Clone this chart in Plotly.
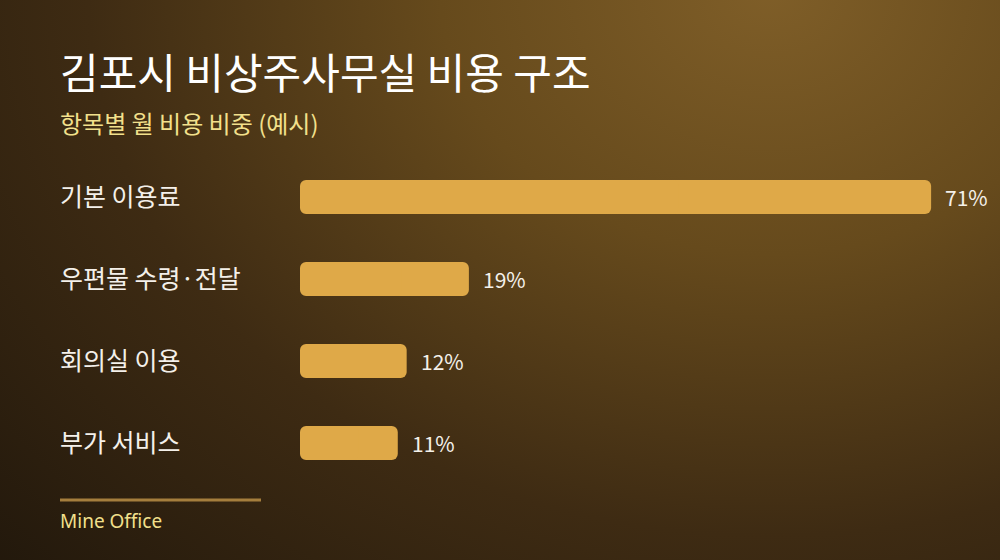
"""
김포시 비상주사무실 비용 구조 - horizontal bar chart on a warm radial backdrop
"""

import base64
import plotly.graph_objects as go

# Data
CATEGORIES = ['기본 이용료', '우편물 수령·전달', '회의실 이용', '부가 서비스']
SHARES = [71, 19, 12, 11]
VALUE_LABELS = ['71%', '19%', '12%', '11%']

TITLE = '김포시 비상주사무실 비용 구조'
SUBTITLE = '항목별 월 비용 비중 (예시)'
SOURCE = 'Mine Office'

FONT = 'Noto Sans CJK KR'
BAR_COLOR = '#dfa948'
ACCENT = '#f2e08c'

W, H = 1000, 560


def background_uri() -> str:
    # radial glow from the upper right fading to near-black in the lower left
    svg = (
        f'<svg xmlns="http://www.w3.org/2000/svg" width="{W}" height="{H}">'
        '<defs><radialGradient id="g" gradientUnits="userSpaceOnUse" '
        'cx="770" cy="-10" r="1100" '
        'gradientTransform="translate(770 -10) scale(1 0.8) translate(-770 10)">'
        '<stop offset="0" stop-color="#7f5e28"/>'
        '<stop offset="0.3" stop-color="#664a1c"/>'
        '<stop offset="0.62" stop-color="#3e2b13"/>'
        '<stop offset="1" stop-color="#1f160b"/>'
        '</radialGradient></defs>'
        f'<rect width="{W}" height="{H}" fill="url(#g)"/></svg>'
    )
    return 'data:image/svg+xml;base64,' + base64.b64encode(svg.encode()).decode()


fig = go.Figure()

# plotly only rounds the tip of a bar, so each bar is drawn as two
# overlapping halves growing outward from the middle: both ends get rounded
bar_style = dict(orientation='h', hoverinfo='skip',
                 marker=dict(color=BAR_COLOR, cornerradius=6, line=dict(width=0)))
fig.add_trace(go.Bar(
    y=CATEGORIES,
    base=[v * 0.4 for v in SHARES],
    x=[v * 0.6 for v in SHARES],
    **bar_style,
))
fig.add_trace(go.Bar(
    y=CATEGORIES,
    base=[v * 0.6 for v in SHARES],
    x=[-v * 0.6 for v in SHARES],
    **bar_style,
))

# category names at left, value labels after each bar
annotations = []
for cat, val, lab in zip(CATEGORIES, SHARES, VALUE_LABELS):
    annotations.append(dict(
        x=0.06, xref='paper', y=cat, yref='y',
        text=cat, showarrow=False, xanchor='left', yanchor='middle',
        xshift=-2, yshift=2,
        font=dict(family=FONT, size=25, color='#f4f0ea'),
    ))
    annotations.append(dict(
        x=val, xref='x', y=cat, yref='y',
        text=lab, showarrow=False, xanchor='left', yanchor='middle',
        xshift=12, font=dict(family=FONT, size=21, color='#f4f0ea'),
    ))

annotations += [
    dict(x=0.06, y=1 - 70 / H, xref='paper', yref='paper', text=TITLE,
         showarrow=False, xanchor='left', yanchor='middle', xshift=-2,
         font=dict(family=FONT, size=42, color='white')),
    dict(x=0.06, y=1 - 122 / H, xref='paper', yref='paper', text=SUBTITLE,
         showarrow=False, xanchor='left', yanchor='middle', xshift=-2,
         font=dict(family=FONT, size=24, color=ACCENT)),
    dict(x=0.06, y=1 - 521 / H, xref='paper', yref='paper', text=SOURCE,
         showarrow=False, xanchor='left', yanchor='middle', xshift=-2,
         font=dict(family='Noto Sans', size=19, color=ACCENT)),
]

fig.update_layout(
    width=W,
    height=H,
    margin=dict(l=0, r=0, t=0, b=0),
    paper_bgcolor='#2a1d0f',
    plot_bgcolor='rgba(0,0,0,0)',
    showlegend=False,
    barmode='overlay',
    bargap=0.585,
    xaxis=dict(domain=[0.3, 0.94], range=[0, 72], visible=False, fixedrange=True),
    yaxis=dict(domain=[1 - 484 / H, 1 - 156 / H], autorange='reversed',
               visible=False, fixedrange=True),
    annotations=annotations,
    shapes=[dict(type='line', xref='paper', yref='paper',
                 x0=0.06, x1=0.261, y0=1 - 500 / H, y1=1 - 500 / H,
                 line=dict(color='#a57e3d', width=3))],
    images=[dict(source=background_uri(), xref='paper', yref='paper',
                 x=0, y=1, sizex=1, sizey=1, sizing='stretch',
                 xanchor='left', yanchor='top', layer='below')],
)

fig.write_html(
    'out.html',
    config={'displayModeBar': False},
    post_script="document.body.style.margin='0';",
)
